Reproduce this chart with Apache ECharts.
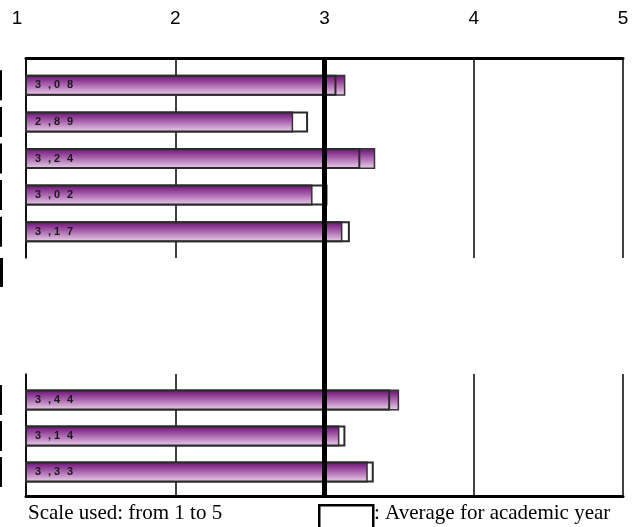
<!DOCTYPE html>
<html>
<head>
<meta charset="utf-8">
<script src="https://cdn.jsdelivr.net/npm/echarts@6/dist/echarts.min.js"></script>
<style>html,body{margin:0;padding:0;background:#fff}#c{width:634px;height:527px}</style>
</head>
<body>
<div id="c"></div>
<script>
// ---- data ----
var scaleTicks = [1, 2, 3, 4, 5];
var topCategories = ['Item 1', 'Item 2', 'Item 3', 'Item 4', 'Item 5'];
var bottomCategories = ['Item 6', 'Item 7', 'Item 8'];
// purple bars
var topValues = [3.14, 2.79, 3.34, 2.92, 3.12];
var bottomValues = [3.50, 3.10, 3.29];
// outlined boxes (labelled values)
var topAverages = [3.08, 2.89, 3.24, 3.02, 3.17];
var bottomAverages = [3.44, 3.14, 3.33];
var midpoint = 3;
var scaleText = 'Scale used: from 1 to 5';
var legendText = ': Average for academic year';

var chart = echarts.init(document.getElementById('c'), null, {renderer: 'canvas'});

var purple = new echarts.graphic.LinearGradient(0, 0, 0, 1, [
  {offset: 0, color: '#b9b9b9'},
  {offset: 0.08, color: '#72197a'},
  {offset: 0.45, color: '#a660aa'},
  {offset: 1, color: '#ecd6ec'}
]);

function fmtLabel(v) {
  var s = v.toFixed(2);
  return '{d|' + s[0] + '}{c|,}{d|' + s[2] + '}{d|' + s[3] + '}';
}

var L = 26, R = 11;
var FONT = 'Liberation Sans, Arial';
function hiddenX(gi) {
  return {type: 'value', gridIndex: gi, min: scaleTicks[0], max: scaleTicks[scaleTicks.length - 1], interval: 1,
    axisLine: {show: false}, axisTick: {show: false}, axisLabel: {show: false}, splitLine: {show: false}};
}
function frameX(gi, pos, labels) {
  return {type: 'value', gridIndex: gi, position: pos, min: scaleTicks[0], max: scaleTicks[scaleTicks.length - 1], interval: 1,
    axisLine: {show: true, lineStyle: {color: '#000', width: 3}},
    axisTick: {show: false},
    axisLabel: {show: labels, margin: 30, color: '#000', fontSize: 19, fontFamily: FONT,
      formatter: function (v) { return v === scaleTicks[0] ? '{a|' + v + '}' : '{b|' + v + '}'; },
      rich: {a: {fontSize: 19, fontFamily: FONT, color: '#000', padding: [0, 18, 0, 0]},
             b: {fontSize: 19, fontFamily: FONT, color: '#000'}}},
    splitLine: {show: true, lineStyle: {color: '#000', width: 1.5}}};
}
function frameY(gi, cats) {
  return {type: 'category', gridIndex: gi, data: cats, inverse: true,
    axisLine: {show: true, onZero: false, lineStyle: {color: '#000', width: 1.5}},
    axisTick: {show: false}, axisLabel: {show: false}, splitLine: {show: false}};
}
function barY(gi, cats) {
  return {type: 'category', gridIndex: gi, data: cats, inverse: true,
    axisLine: {show: false}, axisTick: {show: false}, splitLine: {show: false},
    axisLabel: {show: true, margin: 24, formatter: function () { return '{m|}'; },
      rich: {m: {backgroundColor: '#000', width: 2, height: 30}}}};
}
function valueSeries(xi, data) {
  return {type: 'bar', xAxisIndex: xi, yAxisIndex: xi, data: data, barWidth: 21, barGap: '-100%',
    itemStyle: {color: purple, borderColor: '#333', borderWidth: 1.5}, silent: true, z: 2};
}
var labelChar = {fontSize: 11, fontWeight: 'bold', fontFamily: FONT, color: '#1a1a1a'};
function avgSeries(xi, data) {
  return {type: 'bar', xAxisIndex: xi, yAxisIndex: xi, data: data, barWidth: 21, barGap: '-100%',
    itemStyle: {color: 'rgba(0,0,0,0)', borderColor: '#2a2a2a', borderWidth: 2}, silent: true, z: 3,
    label: {show: true, position: 'insideLeft', distance: 10, formatter: function (p) { return fmtLabel(p.value); },
      rich: {d: Object.assign({width: 13}, labelChar), c: Object.assign({width: 6}, labelChar)}}};
}
function g(top, height) {
  return {left: L, right: R, top: top, height: height, containLabel: false, outerBoundsMode: 'none'};
}

chart.setOption({
  animation: false,
  backgroundColor: '#fff',
  grid: [
    g(58, 200),   // frame top
    g(67, 183),   // bars top
    g(374, 122),  // frame bottom
    g(382, 108),  // bars bottom
    g(58, 438)    // midpoint line
  ],
  xAxis: [frameX(0, 'top', true), hiddenX(1), frameX(2, 'bottom', false), hiddenX(3), hiddenX(4)],
  yAxis: [frameY(0, topCategories), barY(1, topCategories), frameY(2, bottomCategories), barY(3, bottomCategories),
    {type: 'value', gridIndex: 4, min: 0, max: 1, show: false}],
  series: [
    valueSeries(1, topValues), avgSeries(1, topAverages),
    valueSeries(3, bottomValues), avgSeries(3, bottomAverages),
    {type: 'line', xAxisIndex: 4, yAxisIndex: 4, data: [], silent: true,
      markLine: {silent: true, symbol: 'none', label: {show: false},
        lineStyle: {color: '#000', width: 5, type: 'solid'}, data: [{xAxis: midpoint}]}, z: 5}
  ],
  graphic: [
    {type: 'rect', left: 0, top: 258, shape: {width: 3, height: 29}, style: {fill: '#000'}},
    {type: 'text', left: 28, top: 503, style: {text: scaleText, font: '21px "Liberation Serif", "Times New Roman", serif', fill: '#000'}},
    {type: 'rect', left: 318, top: 504, shape: {width: 54, height: 30}, style: {fill: '#fff', stroke: '#000', lineWidth: 2.5}},
    {type: 'text', left: 374, top: 503, style: {text: legendText, font: '21px "Liberation Serif", "Times New Roman", serif', fill: '#000'}}
  ]
});
</script>
</body>
</html>
